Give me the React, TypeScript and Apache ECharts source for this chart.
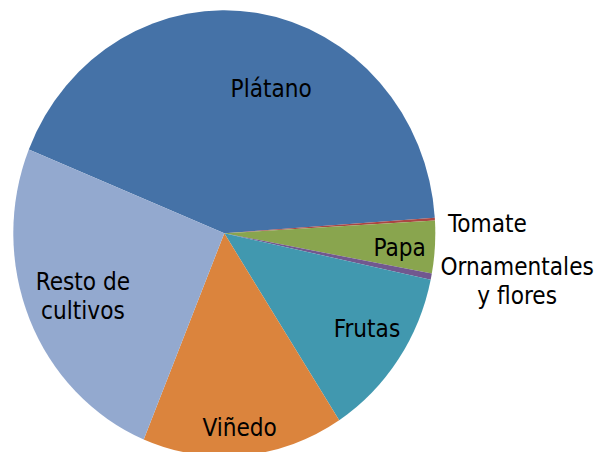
import React, { useEffect, useRef } from "react";
import * as echarts from "echarts";

// Data (share of cultivated area, %)
const categories = [
  "Plátano",
  "Tomate",
  "Papa",
  "Ornamentales\ny flores",
  "Frutas",
  "Viñedo",
  "Resto de\ncultivos",
];
const values = [42.75, 0.2, 3.8, 0.44, 12.5, 15.4, 24.9];
const colors = ["#4572A7", "#AA4643", "#89A54E", "#71588F", "#4198AF", "#DB843D", "#93A9CF"];

// Layout / style
const W = 598;
const H = 452;
const SX = 211 / 223; // horizontal squeeze of the pie (reference is slightly elliptical)
const CX = 224.3 / SX;
const CY = 233.3;
const R = 223;
const START = 157.9;
const labelRadius = [0.688, 1.248, 0.833, 1.404, 0.798, 0.874, 0.726];
const labelNudge = [9.8, 1.6, 0.7, -2.5, -2.4, 0.5, 0.1];

export default function App() {
  const ref = useRef<HTMLDivElement>(null);
  useEffect(() => {
    if (!ref.current) return;
    const chart = echarts.init(ref.current, undefined, { renderer: "svg" });
    const total = values.reduce((a, b) => a + b, 0);
    const mids: number[] = [];
    let cum = 0;
    values.forEach((v) => {
      mids.push(360 - START + ((cum + v / 2) / total) * 360);
      cum += v;
    });
    chart.setOption({
      animation: false,
      backgroundColor: "#ffffff",
      series: [
        {
          type: "pie",
          center: [CX, CY],
          radius: R,
          startAngle: START,
          clockwise: true,
          avoidLabelOverlap: false,
          silent: true,
          itemStyle: { borderWidth: 0 },
          emphasis: { disabled: true },
          label: {
            show: true,
            position: "inside",
            formatter: "{b}",
            color: "#000000",
            fontFamily: "'DejaVu Sans Condensed', 'DejaVu Sans', sans-serif",
            fontSize: 25.5,
            lineHeight: 28.5,
            align: "center",
          },
          labelLine: { show: false },
          labelLayout: (p: any) => {
            const i = p.dataIndex;
            const a = ((mids[i] + labelNudge[i]) * Math.PI) / 180;
            const r = labelRadius[i] * R;
            return {
              x: CX + r * Math.cos(a),
              y: CY + r * Math.sin(a),
              align: "center",
              verticalAlign: "middle",
            };
          },
          data: categories.map((name, i) => ({
            name,
            value: values[i],
            itemStyle: { color: colors[i] },
          })),
        },
      ],
    });
    return () => chart.dispose();
  }, []);
  return (
    <div
      style={{
        position: "fixed",
        left: 0,
        top: 0,
        width: W,
        height: H,
        overflow: "hidden",
        background: "#fff",
      }}
    >
      <div
        ref={ref}
        style={{
          width: W / SX,
          height: H,
          transform: `scaleX(${SX})`,
          transformOrigin: "0 0",
        }}
      />
    </div>
  );
}
